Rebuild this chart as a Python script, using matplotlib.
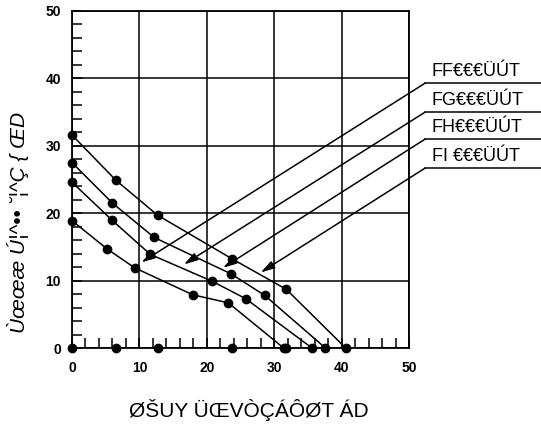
import numpy as np
import matplotlib
matplotlib.use('Agg')
import matplotlib.pyplot as plt
from matplotlib.ticker import MultipleLocator

plt.rcParams['font.family'] = ['Liberation Sans', 'DejaVu Sans']

# Four curves (x, y pairs).
c1_x = [0, 6.5, 12.7, 23.8, 31.8, 40.6]
c1_y = [31.6, 24.9, 19.7, 13.2, 8.7, 0]
c2_x = [0, 6.0, 12.2, 23.6, 28.6, 37.6]
c2_y = [27.5, 21.5, 16.4, 11.0, 7.8, 0]
c3_x = [0, 5.9, 11.6, 20.8, 25.8, 35.6]
c3_y = [24.6, 19.0, 13.9, 9.9, 7.3, 0]
c4_x = [0, 5.2, 9.3, 17.9, 23.2, 31.4]
c4_y = [18.9, 14.7, 11.9, 7.9, 6.7, 0]

# Extra dots sitting on the x axis.
base_x = [0, 6.5, 12.7, 23.8, 31.8]

# Callout labels and where their arrows point.
labels = ['FF€€€ÜÚT', 'FG€€€ÜÚT', 'FH€€€ÜÚT', 'FI €€€ÜÚT']
label_y = [39.3, 35.0, 31.0, 26.7]
tip_x = [10.3, 16.6, 22.4, 28.0]
tip_y = [12.7, 12.4, 11.9, 11.2]

xlabel = 'ØŠUY ÜŒVÒÇÁÔØT ÁD'
ylabel = 'Ùœœæ Ú¦^•• ˘¦^Ç { ŒD'

fig = plt.figure(figsize=(5.41, 4.28), dpi=100)
ax = fig.add_axes([0.1331, 0.1869, 0.6229, 0.7874])

for xs, ys in [(c1_x, c1_y), (c2_x, c2_y), (c3_x, c3_y), (c4_x, c4_y)]:
    ax.plot(xs, ys, color='black', lw=1.1, marker='o', ms=6,
            clip_on=False, zorder=3)
ax.plot(base_x, np.zeros(len(base_x)), ls='none', marker='o', ms=6,
        color='black', clip_on=False, zorder=3)

ax.set_xlim(0, 50)
ax.set_ylim(0, 50)
ax.xaxis.set_major_locator(MultipleLocator(10))
ax.yaxis.set_major_locator(MultipleLocator(10))
ax.xaxis.set_minor_locator(MultipleLocator(2))
ax.yaxis.set_minor_locator(MultipleLocator(2))
ax.grid(True, which='major', color='black', lw=1.1)
ax.tick_params(which='both', direction='in', length=7, width=1.1,
               color='black')
ax.tick_params(axis='x', pad=9, labelsize=10)
ax.tick_params(axis='y', pad=8, labelsize=10)
for t in ax.get_xticklabels() + ax.get_yticklabels():
    t.set_fontweight('bold')
for sp in ax.spines.values():
    sp.set_linewidth(1.3)

x0 = 52.4
x1 = 69.6
for lab, ly, tx, ty in zip(labels, label_y, tip_x, tip_y):
    ax.annotate('', xy=(tx, ty), xytext=(x0, ly), xycoords='data',
                annotation_clip=False,
                arrowprops=dict(arrowstyle='-|>,head_length=0.7,head_width=0.2',
                                color='black', lw=1.1, shrinkA=0, shrinkB=0,
                                mutation_scale=12))
    ax.plot([x0, x1], [ly, ly], color='black', lw=1.1, clip_on=False)
    ax.text(x0 + 1.0, ly + 0.5, lab, fontsize=13, ha='left', va='bottom')

fig.text(0.46, 0.042, xlabel, fontsize=15, ha='center', va='center')
fig.text(0.033, 0.481, ylabel, fontsize=15, style='italic', rotation=90,
         ha='center', va='center')

fig.savefig('out.png', dpi=100)
